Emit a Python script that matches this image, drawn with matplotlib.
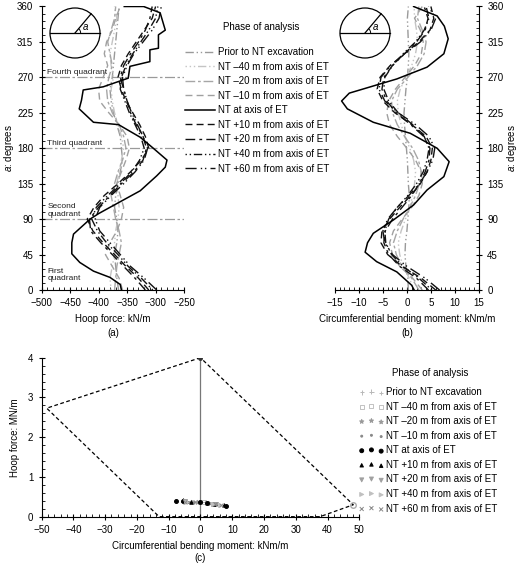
import matplotlib
matplotlib.use("Agg")
import matplotlib.pyplot as plt
from matplotlib.patches import Circle, Arc
from matplotlib.ticker import MultipleLocator
import numpy as np

plt.rcParams['font.family'] = ['Liberation Sans', 'DejaVu Sans']
plt.rcParams['mathtext.fontset'] = 'custom'
plt.rcParams['mathtext.it'] = 'Liberation Sans:italic'
plt.rcParams['mathtext.rm'] = 'Liberation Sans'
plt.rcParams['font.size'] = 7

# --- данные ---
labels = ['Prior to NT excavation',
          'NT \u201340 m from axis of ET',
          'NT \u201320 m from axis of ET',
          'NT \u201310 m from axis of ET',
          'NT at axis of ET',
          'NT +10 m from axis of ET',
          'NT +20 m from axis of ET',
          'NT +40 m from axis of ET',
          'NT +60 m from axis of ET']

ang = [0, 15, 30, 45, 60, 75, 90, 105, 120, 135, 150, 165, 180,
       195, 210, 225, 240, 255, 270, 285, 300, 315, 330, 345, 360]

# (a) hoop force, kN/m
prior_a = [-365, -368, -370, -372, -368, -366, -368, -372, -370, -366, -362, -358, -360,
           -362, -368, -374, -378, -380, -376, -374, -372, -370, -368, -366, -364]
m40_a = [-378, -380, -376, -372, -372, -370, -366, -364, -366, -368, -364, -360, -356,
         -360, -366, -372, -376, -378, -374, -378, -380, -376, -372, -368, -372]
m20_a = [-372, -370, -368, -364, -360, -364, -370, -374, -378, -372, -366, -358, -352,
         -356, -364, -376, -384, -386, -382, -376, -380, -384, -378, -372, -370]
m10_a = [-358, -364, -376, -388, -380, -368, -360, -356, -362, -368, -360, -352, -346,
         -350, -364, -382, -398, -400, -392, -384, -390, -386, -376, -370, -362]
axis_ang_a = [0, 7, 16, 24, 35, 46, 60, 71, 90, 97, 105, 126, 145, 156, 165, 180, 194,
              210, 213, 230, 241, 254, 258, 269, 284, 290, 305, 307, 324, 330, 352, 360, 360]
axis_a = [-360, -362, -380, -409, -433, -447, -447, -444, -415, -400, -380, -327, -298,
          -283, -280, -304, -327, -365, -409, -434, -430, -427, -392, -348, -345, -310,
          -310, -295, -295, -283, -292, -321, -355]
p10_a = [-312, -330, -352, -372, -392, -410, -420, -408, -390, -366, -344, -325, -312,
         -318, -328, -340, -352, -360, -366, -360, -348, -334, -320, -306, -300]
p20_a = [-318, -336, -356, -376, -396, -414, -416, -400, -380, -360, -338, -322, -316,
         -322, -334, -344, -350, -356, -362, -356, -344, -330, -318, -310, -306]
p40_a = [-305, -325, -348, -366, -386, -402, -412, -404, -384, -362, -342, -328, -320,
         -326, -336, -346, -354, -362, -360, -352, -340, -326, -312, -300, -296]
p60_a = [-298, -320, -344, -362, -380, -398, -406, -398, -378, -356, -336, -320, -314,
         -322, -332, -342, -350, -356, -358, -350, -338, -322, -306, -294, -290]

# (b) bending moment, kNm/m
prior_b = [0.3, 0.2, -0.2, -0.4, -0.3, 0.0, 0.2, 0.4, 0.5, 0.3, 0.2, 0.1, -0.1,
           -0.3, -0.5, -0.6, -0.4, -0.2, 0.1, 0.3, 0.4, 0.3, 0.2, 0.1, 0.3]
m40_b = [1.5, 0.5, -0.8, -1.5, -1.8, -1.2, -0.3, 0.6, 1.2, 1.6, 1.8, 1.4, 0.6,
         -0.4, -1.2, -1.8, -2.0, -1.4, -0.2, 1.0, 1.8, 2.2, 2.0, 1.6, 1.5]
m20_b = [2.5, 1.0, -1.0, -2.2, -2.8, -2.0, -0.8, 0.6, 1.8, 2.6, 3.0, 2.4, 1.2,
         -0.5, -2.0, -3.0, -3.2, -2.0, 0.2, 2.2, 3.6, 4.0, 3.2, 2.2, 2.5]
m10_b = [3.2, 1.2, -1.5, -3.0, -3.6, -2.8, -1.0, 1.0, 2.5, 3.2, 3.0, 1.8, 0.0,
         -2.0, -3.6, -4.2, -3.8, -2.4, -0.4, 1.6, 3.0, 3.4, 2.8, 1.6, 3.2]
axis_ang_b = [0, 6, 23, 36, 48, 60, 72, 89, 108, 127, 144, 163, 180, 199, 213, 230,
              240, 250, 268, 283, 300, 319, 335, 348, 360]
axis_b = [1.5, 1.0, -2.1, -6.3, -8.7, -8.2, -7.0, -2.8, 1.4, 4.2, 7.7, 8.8, 6.3, 0.7,
          -7.0, -12.4, -13.6, -12.0, -2.1, 4.2, 7.7, 8.6, 7.8, 6.3, 1.4]
p10_b = [6.0, 3.0, -1.0, -4.0, -5.4, -5.2, -3.6, -1.5, 0.8, 2.8, 4.2, 5.0, 5.3,
         4.0, 1.0, -2.5, -5.0, -6.2, -5.6, -3.5, -0.5, 2.5, 4.8, 5.6, 5.0]
p20_b = [4.5, 2.0, -1.5, -3.8, -4.8, -4.5, -3.0, -1.0, 1.0, 2.6, 3.8, 4.6, 4.8,
         3.5, 0.8, -2.2, -4.2, -5.2, -4.8, -3.0, -0.5, 2.0, 3.8, 4.4, 3.6]
p40_b = [5.2, 2.5, -0.8, -3.2, -4.4, -4.6, -3.8, -2.0, 0.2, 2.0, 3.4, 4.2, 4.6,
         3.6, 1.2, -1.8, -3.8, -4.8, -4.6, -3.0, -0.8, 1.8, 3.6, 4.6, 4.0]
p60_b = [6.8, 3.8, 0.0, -3.0, -4.6, -5.0, -4.0, -2.0, 0.4, 2.6, 4.2, 5.4, 5.8,
         4.6, 1.8, -1.8, -4.6, -5.8, -5.4, -3.4, -0.4, 2.8, 5.0, 6.0, 4.5]

# (c) M-N points (kNm/m, MN/m)
c_prior_m = [-1.5, 0.5, 1.5]
c_prior_n = [0.37, 0.36, 0.36]
c_m40_m = [-2.5, 1.0, 2.0]
c_m40_n = [0.38, 0.36, 0.35]
c_m20_m = [-3.0, -1.0, 2.5]
c_m20_n = [0.38, 0.37, 0.35]
c_m10_m = [-4.0, -2.0, 3.0]
c_m10_n = [0.38, 0.37, 0.34]
c_axis_m = [-7.7, -5.5, 0.0, 2.0, 4.5, 8.0]
c_axis_n = [0.39, 0.40, 0.36, 0.35, 0.33, 0.28]
c_p10_m = [-5.5, -3.0, 4.0, 7.5]
c_p10_n = [0.41, 0.37, 0.33, 0.29]
c_p20_m = [-5.0, 3.5, 5.0]
c_p20_n = [0.39, 0.33, 0.31]
c_p40_m = [-4.5, 4.0, 6.0]
c_p40_n = [0.38, 0.32, 0.30]
c_p60_m = [-5.0, 4.5, 6.5]
c_p60_n = [0.38, 0.31, 0.29]

env_m = [0, -48.4, -13.0, 37.6, 48.1, 0]
env_n = [4.0, 2.73, 0.0, 0.0, 0.3, 4.0]

quad_ang = [90, 180, 270]

# --- стили ---
colors = ['#9a9a9a', '#c4c4c4', '#a6a6a6', '#a0a0a0', 'black',
          '#111111', '#111111', '#111111', '#111111']
dashes = [(0, (6, 2, 1, 2, 1, 2)), (0, (1, 2, 1, 2, 1, 2, 6, 2)), (0, (7, 2, 2, 2)),
          (0, (5, 3)), '-', (0, (5, 3)), (0, (7, 3, 2, 3)), (0, (1, 2, 1, 2, 6, 2)),
          (0, (8, 3, 1, 2, 1, 3))]
lws = [1.0, 1.0, 1.0, 1.0, 1.1, 1.0, 1.0, 1.0, 1.0]

fig = plt.figure(figsize=(5.2, 5.65), dpi=100)
ax_a = fig.add_axes([0.080, 0.4867, 0.274, 0.5018])
ax_b = fig.add_axes([0.644, 0.4867, 0.277, 0.5018])
ax_c = fig.add_axes([0.080, 0.0855, 0.611, 0.2814])


def style(ax, hide):
    for s in hide:
        ax.spines[s].set_visible(False)
    for s in ax.spines.values():
        s.set_linewidth(0.8)
    ax.tick_params(which='major', direction='inout', length=5, width=0.8, labelsize=7)
    ax.tick_params(which='minor', direction='in', length=2.5, width=0.6)


# === (a) ===
a_series = [prior_a, m40_a, m20_a, m10_a, None, p10_a, p20_a, p40_a, p60_a]
for q in quad_ang:
    ax_a.axhline(q, color='#9a9a9a', lw=0.9, ls=(0, (8, 2, 2, 2)), zorder=1)
handles = []
for i, s in enumerate(a_series):
    if s is None:
        h, = ax_a.plot(axis_a, axis_ang_a, color=colors[i], ls=dashes[i], lw=lws[i], zorder=3)
    else:
        h, = ax_a.plot(s, ang, color=colors[i], ls=dashes[i], lw=lws[i], zorder=2)
    handles.append(h)
ax_a.set_xlim(-500, -250)
ax_a.set_ylim(0, 360)
ax_a.xaxis.set_major_locator(MultipleLocator(50))
ax_a.xaxis.set_minor_locator(MultipleLocator(10))
ax_a.yaxis.set_major_locator(MultipleLocator(45))
ax_a.yaxis.set_minor_locator(MultipleLocator(9))
style(ax_a, ['top', 'right'])
ax_a.set_xlabel('Hoop force: kN/m', fontsize=7, labelpad=4)
fig.text(9 / 520, 1 - 148 / 565, '$a$: degrees', rotation=90, ha='center', va='center',
         fontsize=7)
qfs = 6
ax_a.text(-490, 272, 'Fourth quadrant', fontsize=qfs, color='#222222', va='bottom')
ax_a.text(-490, 182, 'Third quadrant', fontsize=qfs, color='#222222', va='bottom')
ax_a.text(-490, 92, 'Second\nquadrant', fontsize=qfs, color='#222222', va='bottom', linespacing=1.1)
ax_a.text(-490, 10, 'First\nquadrant', fontsize=qfs, color='#222222', va='bottom', linespacing=1.1)

# === (b) ===
b_series = [prior_b, m40_b, m20_b, m10_b, None, p10_b, p20_b, p40_b, p60_b]
for i, s in enumerate(b_series):
    if s is None:
        ax_b.plot(axis_b, axis_ang_b, color=colors[i], ls=dashes[i], lw=lws[i], zorder=3)
    else:
        ax_b.plot(s, ang, color=colors[i], ls=dashes[i], lw=lws[i], zorder=2)
ax_b.set_xlim(-15, 15)
ax_b.set_ylim(0, 360)
ax_b.yaxis.tick_right()
ax_b.xaxis.set_major_locator(MultipleLocator(5))
ax_b.xaxis.set_minor_locator(MultipleLocator(1))
ax_b.yaxis.set_major_locator(MultipleLocator(45))
ax_b.yaxis.set_minor_locator(MultipleLocator(9))
style(ax_b, ['top', 'left'])
ax_b.set_xlabel('Circumferential bending moment: kNm/m', fontsize=7, labelpad=4)
fig.text(512 / 520, 1 - 148 / 565, '$a$: degrees', rotation=90, ha='center', va='center',
         fontsize=7)

fig.text(113 / 520, 1 - 333 / 565, '(a)', ha='center', va='center', fontsize=7)
fig.text(407 / 520, 1 - 333 / 565, '(b)', ha='center', va='center', fontsize=7)

# кружки с углом
for cx in (75, 365):
    cax = fig.add_axes([(cx - 27) / 520, 1 - (33 + 27) / 565, 54 / 520, 54 / 565])
    cax.set_xlim(-1.08, 1.08)
    cax.set_ylim(-1.08, 1.08)
    cax.set_aspect('equal')
    cax.axis('off')
    cax.add_patch(Circle((0, 0), 1, fill=False, lw=0.9, color='black'))
    cax.plot([-1, 1], [0, 0], color='black', lw=0.9)
    t = np.deg2rad(50)
    cax.plot([0, np.cos(t)], [0, np.sin(t)], color='black', lw=0.9)
    cax.add_patch(Arc((0, 0), 0.45, 0.45, theta1=0, theta2=50, lw=0.7, color='black'))
    cax.text(0.3, 0.03, 'a', fontsize=7, style='italic', va='bottom')

# легенда (a)/(b)
fig.text(261 / 520, 1 - 27 / 565, 'Phase of analysis', ha='center', va='center', fontsize=7)
fig.legend(handles, labels, loc='upper left', bbox_to_anchor=(0.355, 1 - 47 / 565),
           frameon=False, fontsize=7, handlelength=3.1, handletextpad=0.35,
           labelspacing=0.47, borderpad=0, borderaxespad=0)

# === (c) ===
ax_c.plot([0, 0], [0, 4], color='#777777', lw=0.9, zorder=1)
ax_c.plot(env_m, env_n, color='black', ls=(0, (3, 2)), lw=0.9, zorder=2)
ax_c.plot(env_m[:1], env_n[:1], 'o', color='#333333', ms=2.5)
ax_c.plot(env_m[4:5], env_n[4:5], 'o', mfc='none', mec='#aaaaaa', ms=4)

c_m = [c_prior_m, c_m40_m, c_m20_m, c_m10_m, c_axis_m, c_p10_m, c_p20_m, c_p40_m, c_p60_m]
c_n = [c_prior_n, c_m40_n, c_m20_n, c_m10_n, c_axis_n, c_p10_n, c_p20_n, c_p40_n, c_p60_n]
mk = ['+', 's', '*', '.', 'o', '^', 'v', '>', 'x']
mcol = ['#b8b8b8', '#b8b8b8', '#999999', '#888888', 'black', 'black', '#a0a0a0', '#c0c0c0', '#888888']
msz = [10, 8, 10, 8, 8, 6, 8, 8, 8]
ch = []
for i in range(9):
    if mk[i] == 's':
        h = ax_c.scatter(c_m[i], c_n[i], marker='s', facecolors='none', edgecolors=mcol[i],
                         s=msz[i], linewidths=0.6, zorder=3)
    else:
        h = ax_c.scatter(c_m[i], c_n[i], marker=mk[i], color=mcol[i], s=msz[i],
                         linewidths=0.7, zorder=3)
    ch.append(h)
ax_c.set_xlim(-50, 50)
ax_c.set_ylim(0, 4)
ax_c.xaxis.set_major_locator(MultipleLocator(10))
ax_c.xaxis.set_minor_locator(MultipleLocator(2))
ax_c.yaxis.set_major_locator(MultipleLocator(1))
ax_c.yaxis.set_minor_locator(MultipleLocator(0.2))
style(ax_c, ['top', 'right'])
ax_c.set_xlabel('Circumferential bending moment: kNm/m', fontsize=7, labelpad=4)
ax_c.set_ylabel('Hoop force: MN/m', fontsize=7, labelpad=6)
fig.text(200 / 520, 1 - 558 / 565, '(c)', ha='center', va='center', fontsize=7)

fig.text(430 / 520, 1 - 373 / 565, 'Phase of analysis', ha='center', va='center', fontsize=7)
fig.legend(ch, labels, loc='upper left', bbox_to_anchor=(0.69, 1 - 387 / 565),
           frameon=False, fontsize=7, scatterpoints=3, handlelength=2.6,
           handletextpad=0.2, labelspacing=0.47, borderpad=0, borderaxespad=0)

fig.savefig('out.png', dpi=100)
